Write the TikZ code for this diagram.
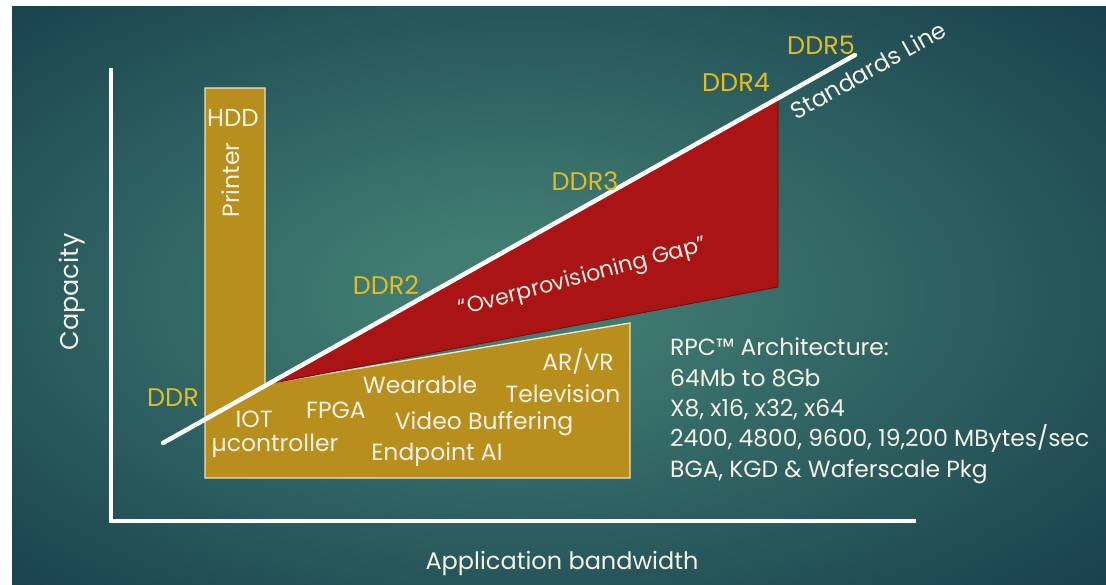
\documentclass[tikz,border=0pt]{standalone}
\usepackage{fontspec}
\setmainfont{Poppins}
\definecolor{bgin}{RGB}{64,124,113}
\definecolor{bgout}{RGB}{24,64,77}
\definecolor{gold}{RGB}{184,142,28}
\definecolor{goldedge}{RGB}{236,228,196}
\definecolor{gapred}{RGB}{170,20,20}
\definecolor{gapedge}{RGB}{120,10,10}
\definecolor{ddryellow}{RGB}{228,188,30}
\definecolor{txt}{RGB}{245,242,230}
\pgfdeclareradialshading{bgshade}{\pgfpoint{-3bp}{0bp}}{color(0bp)=(bgin); color(5bp)=(bgin); color(36bp)=(bgout); color(50bp)=(bgout)}
\begin{document}
\begin{tikzpicture}[x=1pt,y=-1pt,
  goldbox/.style={fill=gold,draw=goldedge,line width=1.4pt,line join=miter},
  gapbox/.style={fill=gapred,draw=gapedge,line width=0.8pt,line join=miter},
  stdline/.style={draw=white,line width=4.5pt,line cap=round},
  axisline/.style={draw=white,line width=4pt,line join=miter},
  lbl/.style={text=txt,font=\fontsize{23.5}{27}\selectfont,inner sep=0pt},
  ddr/.style={text=ddryellow,font=\fontsize{25.5}{29}\selectfont,inner sep=0pt},
  rpc/.style={text=txt,font=\fontsize{23.4}{27}\selectfont,inner sep=0pt,anchor=base west}]
\path[fill=white] (0,0) rectangle (1106,584);
\shade[shading=bgshade] (12,6) rectangle (1106,584);
% gold region
\draw[goldbox] (205,88) -- (265,88) -- (265,384) -- (630,323) -- (630,478) -- (205,478) -- cycle;
% overprovisioning gap
\draw[gapbox] (268,384) -- (778,100) -- (778,287) -- cycle;
% standards line
\coordinate (s0) at (163,443);
\coordinate (s1) at (855,55);
\draw[stdline] (s0) -- (s1);
% axes
\coordinate (ytop) at (111,68);
\coordinate (orig) at (111,521);
\coordinate (xend) at (916,521);
\draw[axisline] (ytop) -- (orig) -- (xend);
% DDR labels
\node[ddr] (ddr1) at (173,398) {DDR};
\node[ddr] (ddr2) at (386,285) {DDR2};
\node[ddr] (ddr3) at (585,181) {DDR3};
\node[ddr] (ddr4) at (736,82) {DDR4};
\node[ddr] (ddr5) at (821,45) {DDR5};
\node[lbl,rotate=29.3] (stdl) at (868,70) {Standards Line};
% axis titles
\node[lbl,font=\fontsize{25.5}{29}\selectfont,rotate=90] (cap) at (72,292) {Capacity};
\node[lbl,font=\fontsize{24}{28}\selectfont] (appbw) at (562,563) {Application bandwidth};
% tall bar
\node[lbl,font=\fontsize{24.5}{28}\selectfont] (hdd) at (233,118) {HDD};
\node[lbl,rotate=90] (printer) at (231,180) {Printer};
% gap text
\node[lbl,font=\fontsize{22}{26}\selectfont,rotate=14.8] (gap) at (583,278) {“Overprovisioning Gap”};
% applications
\node[lbl] (iot) at (254,419) {IOT};
\node[lbl] (uctrl) at (275,446) {µcontroller};
\node[lbl] (fpga) at (336,410) {FPGA};
\node[lbl] (wear) at (420,385) {Wearable};
\node[lbl] (video) at (484,424) {Video Buffering};
\node[lbl] (endai) at (437,455) {Endpoint AI};
\node[lbl] (arvr) at (578,361) {AR/VR};
\node[lbl] (tv) at (563,394) {Television};
% RPC block
\node[rpc] (r1) at (670,355) {RPC™ Architecture:};
\node[rpc] (r2) at (670,386) {64Mb to 8Gb};
\node[rpc] (r3) at (670,416) {X8, x16, x32, x64};
\node[rpc] (r4) at (670,446) {2400, 4800, 9600, 19,200 MBytes/sec};
\node[rpc] (r5) at (670,477) {BGA, KGD \& Waferscale Pkg};
\end{tikzpicture}
\end{document}
